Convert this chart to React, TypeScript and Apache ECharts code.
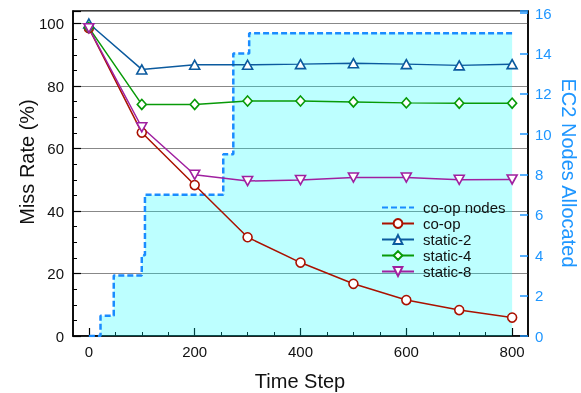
import { useEffect, useRef } from 'react';
import * as echarts from 'echarts';

// Time steps for the miss-rate series
const timeSteps = [0, 100, 200, 300, 400, 500, 600, 700, 800];
// Miss rate (%) per series
const coop = [98.5, 65.1, 48.3, 31.6, 23.5, 16.7, 11.5, 8.3, 5.9];
const static2 = [100, 85.3, 86.8, 86.8, 87.0, 87.3, 87.0, 86.6, 87.0];
const static4 = [98.7, 74.1, 74.1, 75.2, 75.2, 74.9, 74.6, 74.5, 74.5];
const static8 = [98.5, 66.8, 51.6, 49.6, 49.9, 50.7, 50.7, 50.0, 50.1];
// co-op nodes allocated (step function): change times and node counts
const nodeTimes = [0, 22, 47, 100, 106, 254, 273, 303, 800];
const nodeCounts = [0, 1, 3, 4, 7, 9, 14, 15, 15];

// Axis ticks
const xMajorTicks = [0, 200, 400, 600, 800];
const xMinorTicks = [0, 50, 100, 150, 200, 250, 300, 350, 400, 450, 500, 550, 600, 650, 700, 750, 800];
const yMinorTicks = [5, 10, 15, 25, 30, 35, 45, 50, 55, 65, 70, 75, 85, 90, 95];

const FONT = '"Liberation Sans", Arial, Helvetica, sans-serif';
const BLUE = '#1e96ff';
const RED = '#aa1100';
const NAVY = '#0b5a9e';
const GREEN = '#089a08';
const PURPLE = '#a020a0';

const pairs = (xs: number[], ys: number[]) => xs.map((x, i) => [x, ys[i]]);

export default function App() {
  const ref = useRef<HTMLDivElement>(null);
  useEffect(() => {
    if (!ref.current) return;
    const chart = echarts.init(ref.current, null, { renderer: 'svg' });
    const markerSeries = (name: string, data: number[], color: string, symbol: string, size: any) => ({
      name,
      type: 'line',
      xAxisIndex: 0,
      yAxisIndex: 0,
      data: pairs(timeSteps, data),
      symbol,
      symbolSize: size,
      showSymbol: true,
      itemStyle: { color: '#fff', borderColor: color, borderWidth: 1.6 },
      lineStyle: { color, width: 1.5 },
      z: 3,
    });
    chart.setOption({
      animation: false,
      grid: { left: 73, right: 53, top: 11, bottom: 57, show: true, borderColor: '#000', borderWidth: 1.5, backgroundColor: 'transparent' },
      xAxis: [
        {
          type: 'value', min: -30, max: 830, position: 'bottom',
          axisLine: { onZero: false, lineStyle: { color: '#000', width: 1.5 } },
          axisTick: { inside: true, length: 8, customValues: xMajorTicks, lineStyle: { color: '#000', width: 1.2 } },
          axisLabel: { customValues: xMajorTicks, color: '#111', fontSize: 15, fontFamily: FONT, margin: 8 },
          splitLine: { show: false },
        },
        {
          type: 'value', min: -30, max: 830, position: 'bottom',
          axisLine: { show: false, onZero: false },
          axisTick: { inside: true, length: 4, customValues: xMinorTicks, lineStyle: { color: '#000', width: 1 } },
          axisLabel: { show: false },
          splitLine: { show: false },
        },
      ],
      yAxis: [
        {
          type: 'value', min: 0, max: 104, interval: 20, position: 'left',
          axisLine: { show: true, onZero: false, lineStyle: { color: '#000', width: 1.5 } },
          axisTick: { inside: true, length: 8, lineStyle: { color: '#000', width: 1.2 } },
          axisLabel: { color: '#111', fontSize: 15, fontFamily: FONT, margin: 9, formatter: (v: number) => (v % 20 === 0 ? String(v) : '') },
          splitLine: { show: true, lineStyle: { color: '#888', width: 1 } },
        },
        {
          type: 'value', min: 0, max: 16.1, interval: 2, position: 'right',
          axisLine: { show: true, onZero: false, lineStyle: { color: '#000', width: 1.5 } },
          axisTick: { inside: true, length: 8, lineStyle: { color: BLUE, width: 1.5 } },
          axisLabel: { color: BLUE, fontSize: 15, fontFamily: FONT, margin: 7, formatter: (v: number) => (Number.isInteger(v) ? String(v) : '') },
          splitLine: { show: false },
        },
        {
          type: 'value', min: 0, max: 104, position: 'left',
          axisLine: { show: false, onZero: false },
          axisTick: { inside: true, length: 4, customValues: yMinorTicks, lineStyle: { color: '#000', width: 1 } },
          axisLabel: { show: false },
          splitLine: { show: false },
        },
      ],
      legend: {
        orient: 'vertical', left: 376, top: 195, itemWidth: 32, itemHeight: 11, itemGap: 1,
        textStyle: { fontSize: 15, lineHeight: 14, color: '#111', fontFamily: FONT, padding: [0, 0, 0, 4] },
        data: [
          { name: 'co-op nodes', itemStyle: { opacity: 0 } },
          'co-op', 'static-2', 'static-4', 'static-8',
        ],
      },
      graphic: [
        { type: 'text', x: 27, y: 162, rotation: Math.PI / 2, style: { text: 'Miss Rate (%)', fontSize: 20, fontFamily: FONT, fill: '#111', align: 'center', verticalAlign: 'middle' } },
        { type: 'text', x: 569, y: 173, rotation: -Math.PI / 2, style: { text: 'EC2 Nodes Allocated', fontSize: 20, fontFamily: FONT, fill: BLUE, align: 'center', verticalAlign: 'middle' } },
        { type: 'text', x: 300, y: 381, style: { text: 'Time Step', fontSize: 20, fontFamily: FONT, fill: '#111', align: 'center', verticalAlign: 'middle' } },
      ],
      series: [
        {
          name: 'co-op nodes', type: 'line', xAxisIndex: 0, yAxisIndex: 1, step: 'end',
          data: pairs(nodeTimes, nodeCounts), symbol: 'none',
          itemStyle: { color: '#1a8cff' },
          lineStyle: { color: '#1a8cff', width: 2.5, type: [6, 3] },
          areaStyle: { color: 'rgba(0,255,255,0.37)' },
          z: 1,
        },
        markerSeries('co-op', coop, RED, 'circle', 9),
        markerSeries('static-2', static2, NAVY, 'triangle', [10, 9]),
        markerSeries('static-4', static4, GREEN, 'diamond', [9, 10]),
        markerSeries('static-8', static8, PURPLE, 'path://M0,0L10,0L5,9Z', [10, 9]),
      ],
    });
    return () => chart.dispose();
  }, []);
  return <div ref={ref} style={{ position: 'fixed', left: 0, top: 0, width: 581, height: 393 }} />;
}
